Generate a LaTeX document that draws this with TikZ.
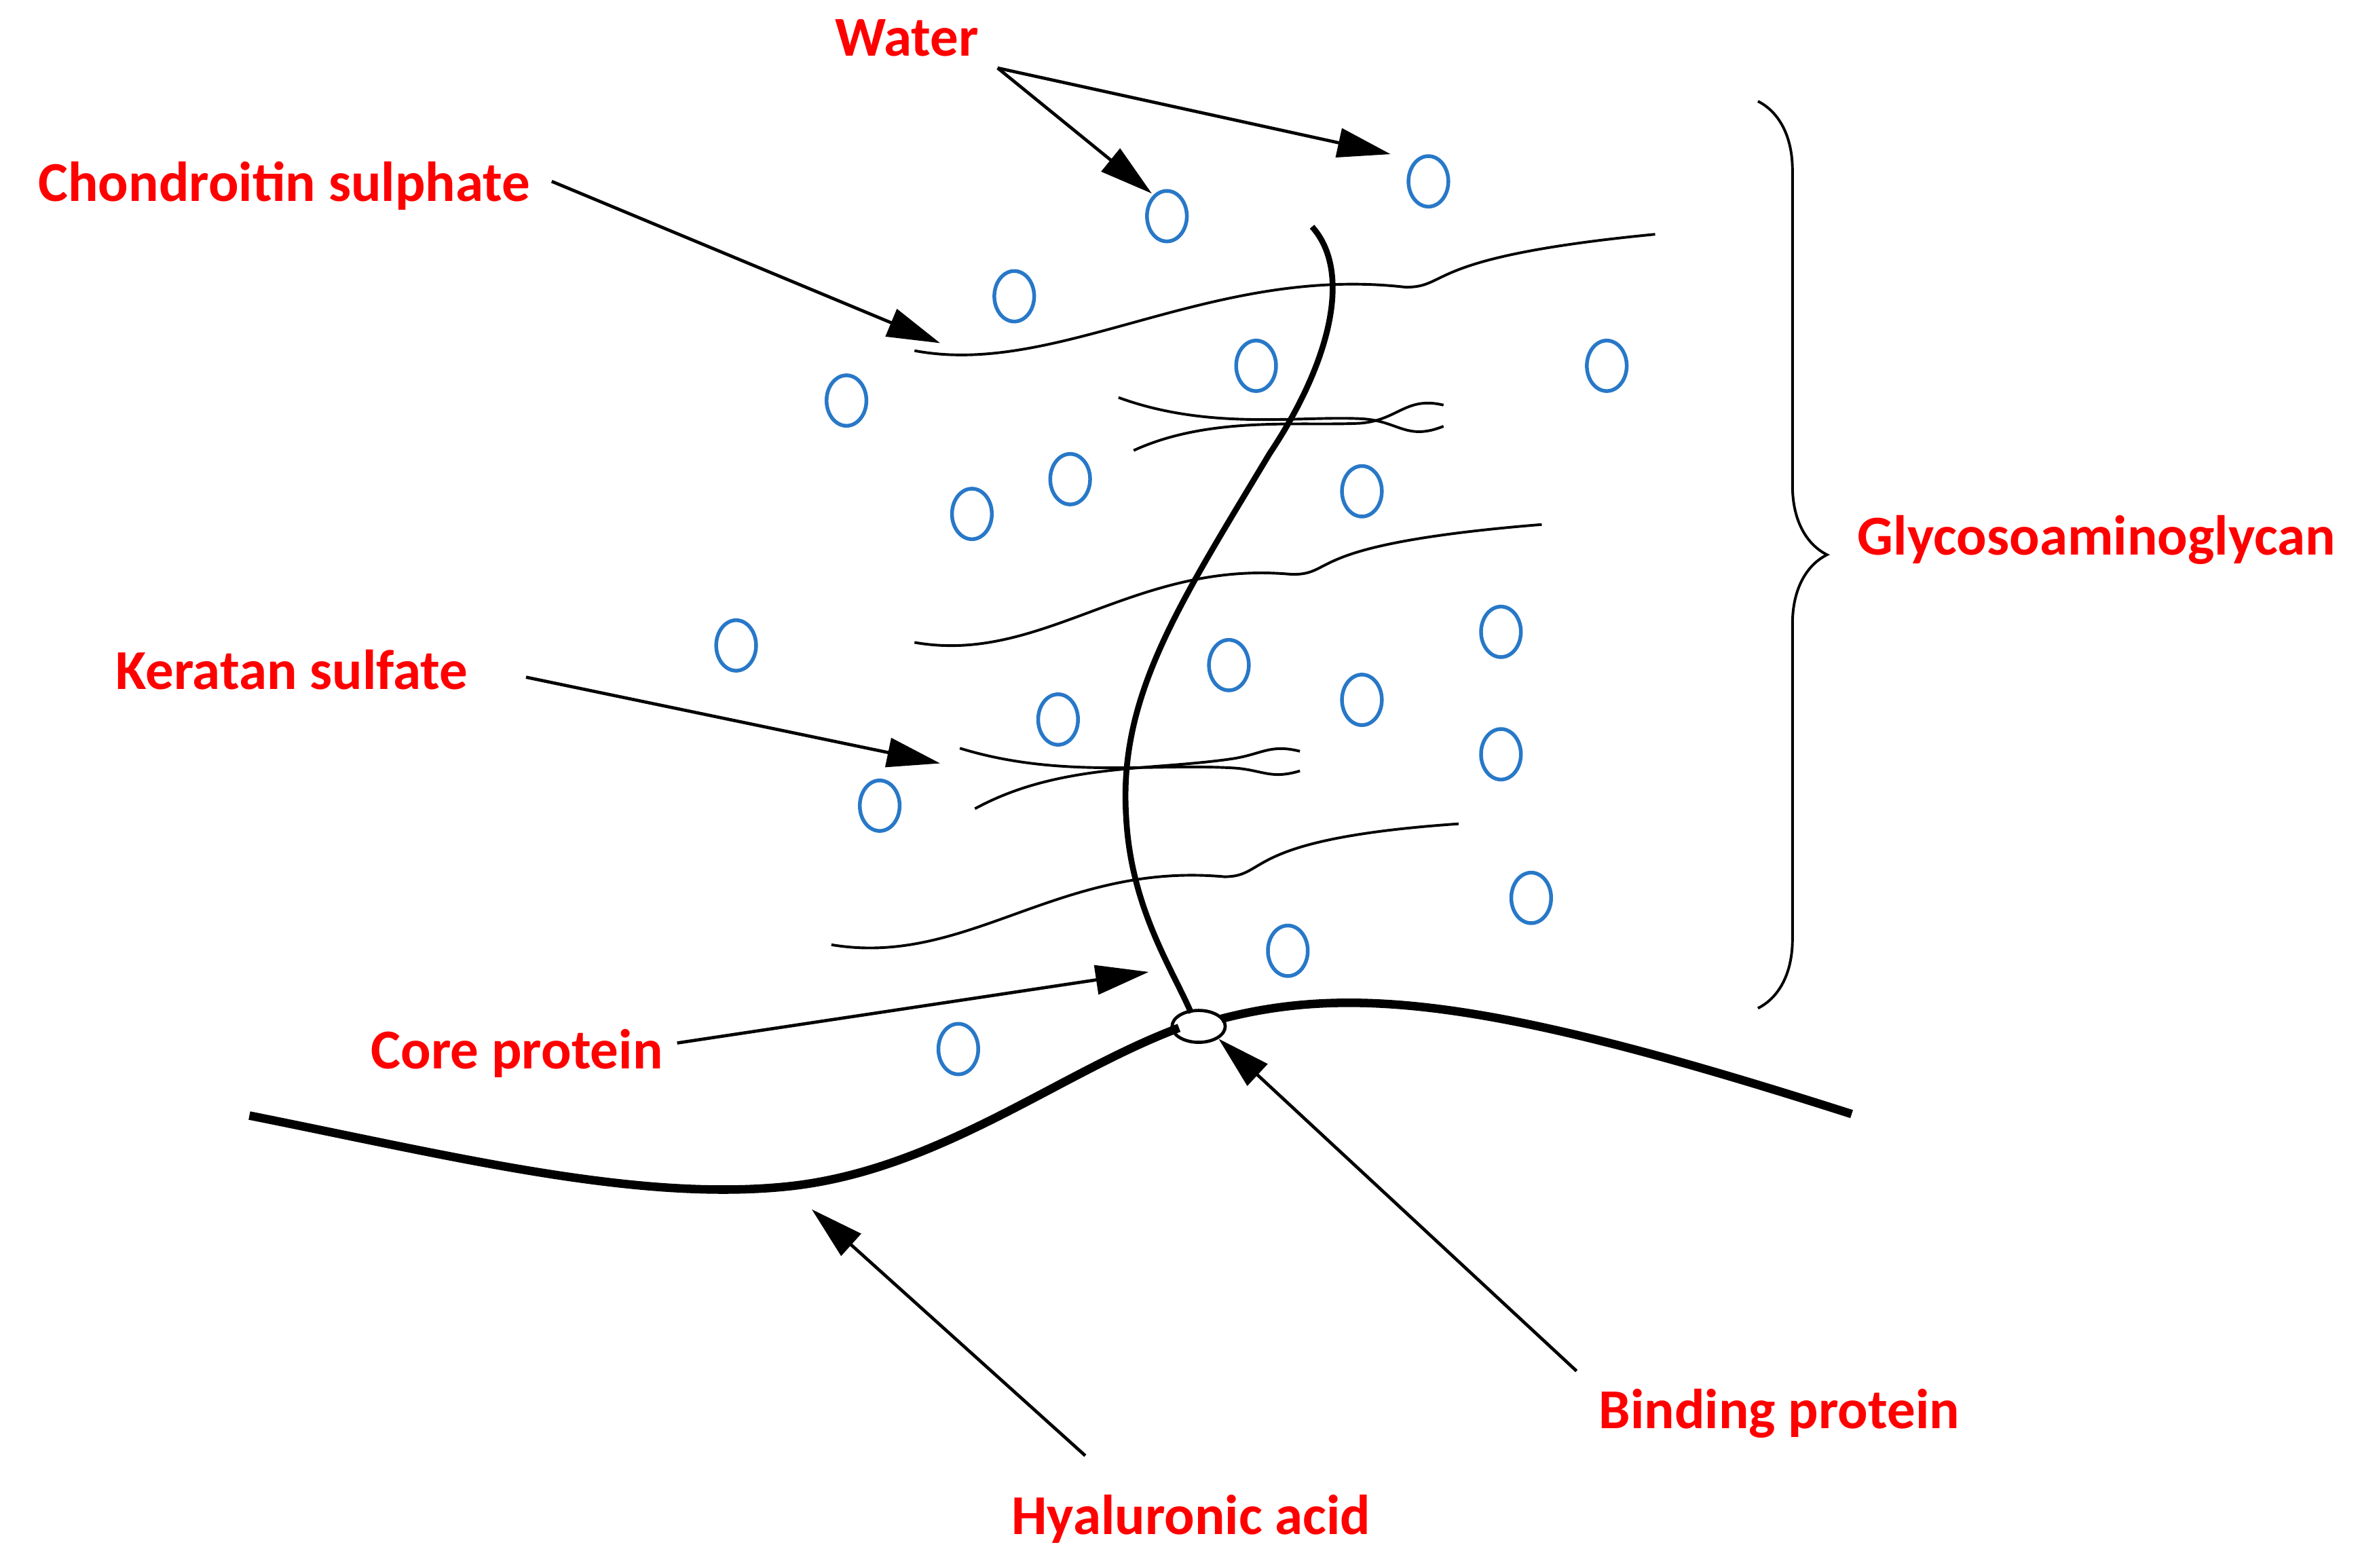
\documentclass[tikz,border=0pt]{standalone}
\usepackage{fontspec}
\setmainfont{Carlito}
\usetikzlibrary{arrows.meta}
\usetikzlibrary{shapes.geometric}
\usetikzlibrary{decorations.pathreplacing}

\begin{document}
\begin{tikzpicture}[x = 0.01cm, y = -0.01cm, font=\bfseries\fontsize{10.6}{13}\selectfont]
	\tikzstyle{labelStyle} = [text = red, inner sep = 0pt]
	\tikzstyle{pointerStyle} = [-{Triangle[length=10pt, width=5.5pt]}, line width = 0.6pt]
	\tikzstyle{chainStyle} = [line width = 0.5pt]
	\tikzstyle{waterStyle} = [draw = {rgb,255:red,40;green,120;blue,200}, line width = 0.7pt, ellipse, minimum width = 7.5pt, minimum height = 9.5pt, inner sep = 0pt]
	\useasboundingbox (0,0) rectangle (1560,1037);
	% hyaluronic acid and binding protein
	\draw[line width = 1.6pt] (165,738) .. controls (300,765) and (420,795) .. (520,785) .. controls (620,775) and (700,710) .. (780,680);
	\draw[line width = 1.6pt] (808,674) .. controls (900,650) and (1000,665) .. (1225,737);
	\node[draw, ellipse, minimum width = 10pt, minimum height = 6pt, inner sep = 0pt, line width = 0.6pt] (bind) at (793,679) {};
	% core protein
	\draw[line width = 1.1pt] (868,150) .. controls (895,180) and (880,240) .. (840,300) .. controls (780,400) and (740,460) .. (745,540) .. controls (748,600) and (775,640) .. (788,670);
	% chondroitin chains
	\draw[chainStyle] (605,232) .. controls (700,250) and (800,175) .. (930,190) .. controls (960,190) and (940,170) .. (1095,155);
	\draw[chainStyle] (605,425) .. controls (690,440) and (750,370) .. (855,380) .. controls (885,380) and (860,360) .. (1020,347);
	\draw[chainStyle] (550,625) .. controls (640,640) and (700,570) .. (810,580) .. controls (840,580) and (820,555) .. (965,545);
	% keratan chains
	\draw[chainStyle] (740,263) .. controls (800,285) and (860,275) .. (900,277) .. controls (925,278) and (930,292) .. (955,282);
	\draw[chainStyle] (750,298) .. controls (800,275) and (860,282) .. (900,280) .. controls (925,278) and (930,262) .. (955,268);
	\draw[chainStyle] (635,495) .. controls (700,515) and (760,505) .. (815,508) .. controls (835,509) and (840,516) .. (860,510);
	\draw[chainStyle] (645,535) .. controls (700,505) and (760,510) .. (815,502) .. controls (835,499) and (840,492) .. (860,497);
	% water
	\foreach \px/\py [count = \i] in {772/143, 945/120, 671/196, 831/242, 1063/242, 560/265, 708/317, 643/340, 901/325, 487/427, 813/440, 993/418, 700/476, 901/463, 993/499, 582/533, 1013/594, 852/629, 634/694}
		\node[waterStyle] (w\i) at (\px,\py) {};
	% brace
	\draw[decorate, decoration = {brace, amplitude = 13pt}, line width = 0.5pt] (1163,67) -- (1163,667);
	% labels
	\node[labelStyle] (water) at (600,25) {Water};
	\node[labelStyle] (chondroitin) at (188,123) {Chondroitin sulphate};
	\node[labelStyle] (keratan) at (193,443) {Keratan sulfate};
	\node[labelStyle] (core) at (342,697) {Core protein};
	\node[labelStyle] (hyaluronic) at (788,1005) {Hyaluronic acid};
	\node[labelStyle] (binding) at (1177,935) {Binding protein};
	\node[labelStyle] (gag) at (1387,357) {Glycosoaminoglycan};
	% pointers
	\coordinate (waterFoot) at (660,45);
	\coordinate (chondroitinTip) at (622,227);
	\coordinate (keratanTip) at (622,505);
	\coordinate (coreTip) at (760,643);
	\coordinate (hyaluronicTip) at (537,800);
	\draw[pointerStyle] (waterFoot) -- (762,128);
	\draw[pointerStyle] (waterFoot) -- (920,102);
	\draw[pointerStyle] (365,120) -- (chondroitinTip);
	\draw[pointerStyle] (348,448) -- (keratanTip);
	\draw[pointerStyle] (448,690) -- (coreTip);
	\draw[pointerStyle] (718,963) -- (hyaluronicTip);
	\draw[pointerStyle] (1043,907) -- (bind.south east);
\end{tikzpicture}
\end{document}
